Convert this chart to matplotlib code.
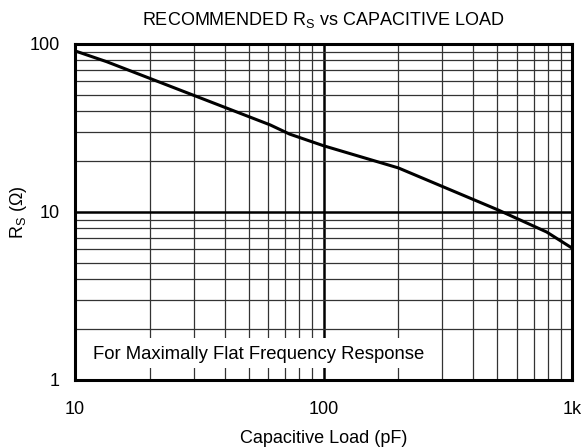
import matplotlib
matplotlib.use("Agg")
import matplotlib.pyplot as plt
from matplotlib.patches import Rectangle
from matplotlib.ticker import FixedLocator, FixedFormatter, LogLocator, NullFormatter

plt.rcParams['font.family'] = ['Liberation Sans', 'DejaVu Sans']

# curve (capacitive load in pF, recommended Rs in ohms)
cap_pf = [10, 13.4, 61, 73, 100, 200, 503, 791, 1000]
rs_ohm = [91, 78.5, 33, 29.1, 24.8, 18.3, 10.3, 7.6, 6.1]

x_ticks = [10, 100, 1000]
x_labels = ["10", "100", "1k"]
y_ticks = [1, 10, 100]
y_labels = ["1", "10", "100"]

fig = plt.figure(figsize=(5.81, 4.47), dpi=100)
ax = fig.add_axes([75 / 581, 67 / 447, 497 / 581, 336 / 447])

ax.set_xscale("log")
ax.set_yscale("log")
ax.set_xlim(10, 1000)
ax.set_ylim(1, 100)

ax.xaxis.set_major_locator(FixedLocator(x_ticks))
ax.xaxis.set_major_formatter(FixedFormatter(x_labels))
ax.yaxis.set_major_locator(FixedLocator(y_ticks))
ax.yaxis.set_major_formatter(FixedFormatter(y_labels))
ax.xaxis.set_minor_locator(LogLocator(base=10, subs=range(2, 10)))
ax.yaxis.set_minor_locator(LogLocator(base=10, subs=range(2, 10)))
ax.xaxis.set_minor_formatter(NullFormatter())
ax.yaxis.set_minor_formatter(NullFormatter())

ax.grid(which="major", color="black", linewidth=1.8)
ax.grid(which="minor", color="#333333", linewidth=0.9)
ax.set_axisbelow(True)

ax.tick_params(which="both", length=0)
ax.tick_params(axis="x", pad=15, labelsize=13)
ax.tick_params(axis="y", pad=11, labelsize=13)

for s in ax.spines.values():
    s.set_linewidth(2.2)

ax.plot(cap_pf, rs_ohm, color="black", linewidth=2.2, zorder=3)

# white patch behind the note so grid lines stop around it
ax.add_patch(Rectangle((0, 0.036), 0.72, 0.089, transform=ax.transAxes,
                       facecolor="white", edgecolor="none", zorder=2))
ax.text(0.036, 0.075, "For Maximally Flat Frequency Response",
        transform=ax.transAxes, fontsize=13.3, va="center", ha="left", zorder=4)

ax.set_title("RECOMMENDED R$_\\mathregular{S}$ vs CAPACITIVE LOAD",
             fontsize=13, pad=14)
ax.set_xlabel("Capacitive Load (pF)", fontsize=13, labelpad=9)
ax.set_ylabel("R$_\\mathregular{S}$ (Ω)", fontsize=13, labelpad=0.5)

fig.savefig("out.png", dpi=100)
